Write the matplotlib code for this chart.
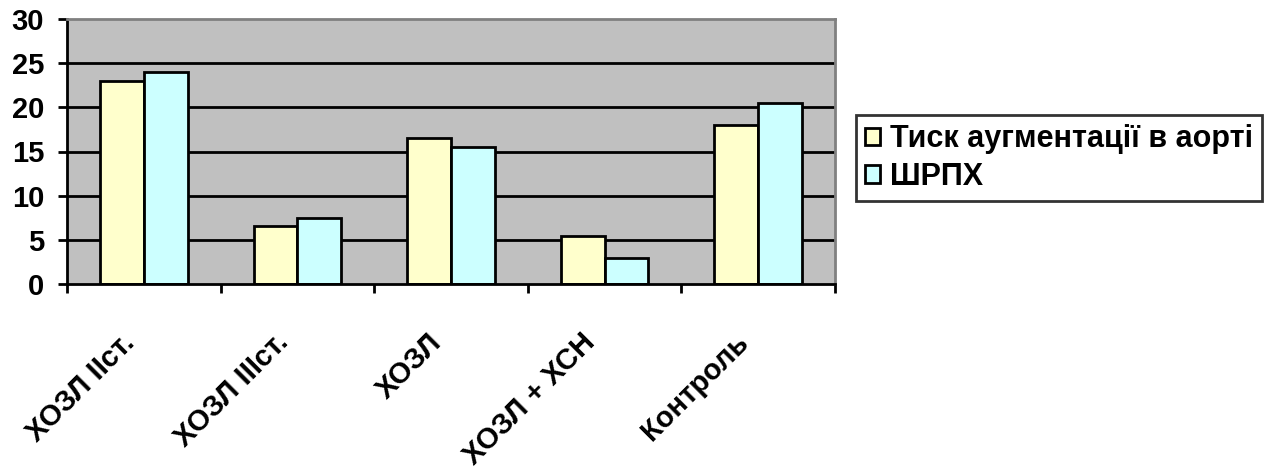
import matplotlib.pyplot as plt
import numpy as np

plt.rcParams['font.family'] = ['Liberation Sans', 'DejaVu Sans']
plt.rcParams['font.weight'] = 'bold'

categories = ['ХОЗЛ ІІст.', 'ХОЗЛ ІІІст.', 'ХОЗЛ', 'ХОЗЛ + ХСН', 'Контроль']
pressure = [23.0, 6.6, 16.5, 5.4, 18.0]
shrph = [24.0, 7.5, 15.5, 3.0, 20.5]
series_names = ['Тиск аугментації в аорті', 'ШРПХ']
yticks = [0, 5, 10, 15, 20, 25, 30]

FS = 21

fig = plt.figure(figsize=(12.8, 4.68), dpi=100)
ax = fig.add_axes([67 / 1280, 1 - 284 / 468, (835 - 67) / 1280, (284 - 19) / 468])
ax.set_facecolor('#C0C0C0')

x = np.arange(len(categories))
w = 1 / 3.5
ax.bar(x - w / 2, pressure, w, color='#FFFFCC', edgecolor='black', linewidth=2,
       label=series_names[0], zorder=3)
ax.bar(x + w / 2, shrph, w, color='#CCFFFF', edgecolor='black', linewidth=2,
       label=series_names[1], zorder=3)

ax.set_xlim(-0.5, len(categories) - 0.5)
ax.set_ylim(0, 30)
ax.set_yticks(yticks)
for v in yticks[1:-1]:
    ax.axhline(v, color='black', linewidth=2, zorder=1)

# category names sit under the group centres, ticks mark group borders
ax.set_xticks(x)
ax.set_xticklabels([])
ax.tick_params(axis='x', which='major', length=0)
ax.set_xticks(np.arange(len(categories) + 1) - 0.5, minor=True)
ax.tick_params(axis='x', which='minor', length=6.5, width=2, direction='out')
for xi, name in zip(x, categories):
    ax.annotate(name, xy=(xi, 0), xycoords=('data', 'axes fraction'),
                xytext=(-10, -39), textcoords='offset points',
                rotation=45, ha='right', va='center', rotation_mode='anchor',
                fontsize=FS, fontweight='bold')

ax.tick_params(axis='y', length=6.5, width=2, direction='out', labelsize=FS, pad=10)
for lbl in ax.get_yticklabels():
    lbl.set_fontweight('bold')

for side in ('left', 'bottom'):
    ax.spines[side].set_color('black')
    ax.spines[side].set_linewidth(2)
for side in ('top', 'right'):
    ax.spines[side].set_color('#808080')
    ax.spines[side].set_linewidth(2)
ax.spines['bottom'].set_zorder(4)

leg = fig.legend(loc='upper left', bbox_to_anchor=(856 / 1280, 1 - 115 / 468),
                 prop={'weight': 'bold', 'size': 22},
                 frameon=True, fancybox=False, edgecolor='black',
                 handlelength=0.5, handleheight=0.5, handletextpad=0.3,
                 borderpad=0.3, labelspacing=0.25, borderaxespad=0)
leg.get_frame().set_linewidth(2)

fig.savefig('out.png', dpi=100)
